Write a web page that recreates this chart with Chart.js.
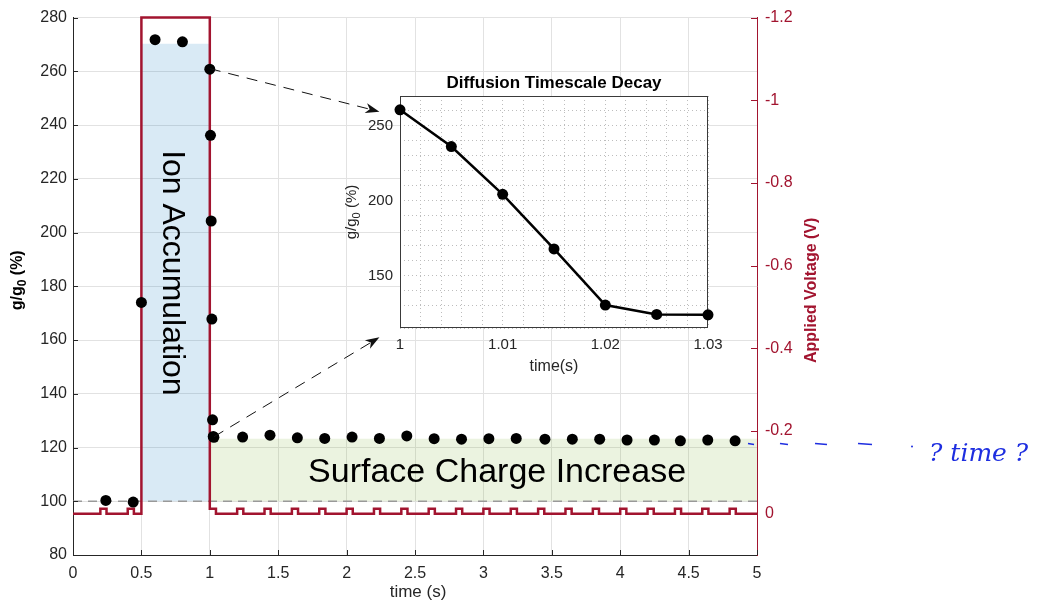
<!DOCTYPE html>
<html>
<head>
<meta charset="utf-8">
<script src="https://cdn.jsdelivr.net/npm/chart.js@4.4.0/dist/chart.umd.min.js"></script>
<style>
  html, body { margin: 0; padding: 0; background: #fff; }
  #wrap { position: relative; width: 1045px; height: 603px; }
  #main { position: absolute; left: 0; top: 0; }
  #inset { position: absolute; left: 330px; top: 62px; }
</style>
</head>
<body>
<div id="wrap">
  <canvas id="main" width="1045" height="603"></canvas>
  <canvas id="inset" width="410" height="318"></canvas>
</div>
<script>
// conductance ratio g/g0 (%) against time (s)
const timeS = [0.24, 0.44, 0.5, 0.6, 0.8,
  1.0, 1.005, 1.01, 1.015, 1.02, 1.025, 1.03,
  1.24, 1.44, 1.64, 1.84, 2.04, 2.24, 2.44, 2.64, 2.84, 3.04,
  3.24, 3.45, 3.65, 3.85, 4.05, 4.25, 4.44, 4.64, 4.84]
const ratio = [100.3, 99.7, 174, 271.8, 271.0,
  260.8, 236.2, 204.3, 167.8, 130.3, 124.1, 123.8,
  123.9, 124.6, 123.6, 123.4, 123.9, 123.4, 124.3, 123.3, 123.1, 123.3,
  123.4, 123.1, 123.1, 123.1, 122.8, 122.8, 122.5, 122.8, 122.5]

// applied voltage: one big pulse plus small read pulses
const pulseWindow = [0.5, 1.0]
const pulseVolt = -1.2
const bumpStarts = [0.2, 0.4, 1.0, 1.2, 1.4, 1.6, 1.8, 2.0, 2.2, 2.4, 2.6, 2.8,
  3.0, 3.2, 3.4, 3.6, 3.8, 4.0, 4.2, 4.4, 4.6, 4.8]
const bumpWidth = 0.045
const bumpVolt = -0.012

// shaded regions
const ionWindow = [0.5, 1.0]
const ionTop = 270.3
const surfaceWindow = [1.0, 5.0]
const surfaceTop = 123.3
const baseRatio = 100

// tick values
const xTicks = [0, 5, 0.5]
const yTicks = [80, 280, 20]
const vTicks = [-1.2, 0.1, 0.2]

// inset zoom window
const insetRange = [1.0, 1.03]
const insetY = [115, 270]

// annotation anchors (data units)
const ionLabelAt = [0.72, 185]
const surfaceLabelAt = [3.1, 110.6]
const arrowFrom = [[1.0, 261], [1.03, 124]]
const arrowTo = [[2.24, 245], [2.24, 161]]

const crimson = '#a2142f'
const ink = '#262626'
const gridColor = '#e2e2e2'
const font = 'Liberation Sans'

// build voltage step trace
let voltPoints = [{ x: 0, y: 0 }]
let events = [{ x: pulseWindow[0], y: pulseVolt }]
bumpStarts.forEach((s) => {
  events.push({ x: s, y: bumpVolt })
  events.push({ x: s + bumpWidth, y: 0 })
})
events.sort((a, b) => a.x - b.x)
voltPoints = voltPoints.concat(events)
voltPoints.push({ x: 5, y: 0 })

function drawSubLabel(ctx, pre, sub, post, x, y, rot, weight, size, color) {
  ctx.save()
  ctx.fillStyle = color
  const big = weight + ' ' + size + 'px "' + font + '"'
  const small = weight + ' ' + Math.round(size * 0.72) + 'px "' + font + '"'
  ctx.font = big
  const w1 = ctx.measureText(pre).width
  const w3 = ctx.measureText(post).width
  ctx.font = small
  const w2 = ctx.measureText(sub).width
  const total = w1 + w2 + w3
  ctx.translate(x, y)
  ctx.rotate(rot)
  ctx.textBaseline = 'middle'
  ctx.textAlign = 'left'
  ctx.font = big
  ctx.fillText(pre, -total / 2, 0)
  ctx.font = small
  ctx.fillText(sub, -total / 2 + w1, size * 0.3)
  ctx.font = big
  ctx.fillText(post, -total / 2 + w1 + w2, 0)
  ctx.restore()
}

const mainDecor = {
  id: 'mainDecor',
  afterDatasetsDraw(chart) {
    const { ctx, scales } = chart
    const x = scales.x
    const y = scales.y

    // dashed arrows to the inset
    arrowFrom.forEach((p, i) => {
      const x1 = x.getPixelForValue(p[0])
      const y1 = y.getPixelForValue(p[1])
      const x2 = x.getPixelForValue(arrowTo[i][0])
      const y2 = y.getPixelForValue(arrowTo[i][1])
      const ang = Math.atan2(y2 - y1, x2 - x1)
      ctx.save()
      ctx.strokeStyle = '#111'
      ctx.lineWidth = 1
      ctx.setLineDash([11, 8])
      ctx.beginPath()
      ctx.moveTo(x1, y1)
      ctx.lineTo(x2 - 10 * Math.cos(ang), y2 - 10 * Math.sin(ang))
      ctx.stroke()
      ctx.setLineDash([])
      ctx.translate(x2, y2)
      ctx.rotate(ang)
      ctx.fillStyle = '#111'
      ctx.beginPath()
      ctx.moveTo(0, 0)
      ctx.lineTo(-14, -5)
      ctx.lineTo(-10, 0)
      ctx.lineTo(-14, 5)
      ctx.closePath()
      ctx.fill()
      ctx.restore()
    })

    // region labels
    ctx.save()
    ctx.fillStyle = '#000'
    ctx.textAlign = 'center'
    ctx.textBaseline = 'middle'
    ctx.translate(x.getPixelForValue(ionLabelAt[0]), y.getPixelForValue(ionLabelAt[1]))
    ctx.rotate(Math.PI / 2)
    ctx.font = '32px "' + font + '"'
    ctx.fillText('Ion Accumulation', 0, 0)
    ctx.restore()

    ctx.save()
    ctx.fillStyle = '#000'
    ctx.textAlign = 'center'
    ctx.textBaseline = 'middle'
    ctx.font = '34px "' + font + '"'
    ctx.fillText('Surface Charge Increase', x.getPixelForValue(surfaceLabelAt[0]), y.getPixelForValue(surfaceLabelAt[1]))
    ctx.restore()
  },
  afterDraw(chart) {
    const { ctx, chartArea, scales } = chart
    const { left, right, top, bottom } = chartArea

    // inward tick marks
    ctx.save()
    ctx.lineWidth = 1
    ctx.strokeStyle = ink
    scales.y.ticks.forEach((t) => {
      const py = Math.round(scales.y.getPixelForValue(t.value)) + 0.5
      ctx.beginPath(); ctx.moveTo(left, py); ctx.lineTo(left + 5, py); ctx.stroke()
    })
    scales.x.ticks.forEach((t) => {
      const px = Math.round(scales.x.getPixelForValue(t.value)) + 0.5
      ctx.beginPath(); ctx.moveTo(px, bottom); ctx.lineTo(px, bottom - 5); ctx.stroke()
    })
    ctx.strokeStyle = crimson
    scales.yV.ticks.forEach((t) => {
      if (t.value > 0.05) return
      const py = Math.round(scales.yV.getPixelForValue(t.value)) + 0.5
      ctx.beginPath(); ctx.moveTo(right, py); ctx.lineTo(right - 6, py); ctx.stroke()
    })
    ctx.restore()

    // axis titles
    const midY = (top + bottom) / 2
    drawSubLabel(ctx, 'g/g', '0', ' (%)', 18, midY - 6, -Math.PI / 2, 'bold', 16, '#000')
    ctx.save()
    ctx.fillStyle = crimson
    ctx.font = 'bold 16px "' + font + '"'
    ctx.textAlign = 'center'
    ctx.textBaseline = 'middle'
    ctx.translate(right + 55, midY + 4)
    ctx.rotate(-Math.PI / 2)
    ctx.fillText('Applied Voltage (V)', 0, 0)
    ctx.restore()
    ctx.save()
    ctx.fillStyle = ink
    ctx.font = '17px "' + font + '"'
    ctx.textAlign = 'center'
    ctx.textBaseline = 'middle'
    ctx.fillText('time (s)', (left + right) / 2 + 3, 592)
    ctx.restore()

    // handwritten note on the right margin
    const ny = scales.yV.getPixelForValue(-0.17)
    ctx.save()
    ctx.strokeStyle = '#1e2ee0'
    ctx.fillStyle = '#1e2ee0'
    ctx.lineWidth = 1.5
    ;[[-9, -3], [23, 31], [58, 70], [101, 115]].forEach((d) => {
      ctx.beginPath(); ctx.moveTo(right + d[0], ny); ctx.lineTo(right + d[1], ny + 1); ctx.stroke()
    })
    ctx.beginPath(); ctx.arc(right + 155, ny + 3, 1, 0, Math.PI * 2); ctx.fill()
    ctx.font = 'italic 25px "DejaVu Serif"'
    ctx.textBaseline = 'alphabetic'
    ctx.fillText('? time ?', right + 172, ny + 18)
    ctx.restore()
  },
}

new Chart(document.getElementById('main'), {
  type: 'scatter',
  data: {
    datasets: [
      {
        data: timeS.map((t, i) => ({ x: t, y: ratio[i] })),
        yAxisID: 'y',
        pointRadius: 5.5,
        pointBackgroundColor: '#000',
        pointBorderWidth: 0,
        order: 0,
      },
      {
        data: voltPoints,
        yAxisID: 'yV',
        showLine: true,
        stepped: true,
        borderColor: crimson,
        borderWidth: 2.5,
        pointRadius: 0,
        clip: 3,
        order: 1,
      },
      {
        data: [{ x: 0, y: baseRatio }, { x: 5, y: baseRatio }],
        yAxisID: 'y',
        showLine: true,
        borderColor: '#999',
        borderWidth: 1.5,
        borderDash: [9, 6],
        pointRadius: 0,
        order: 2,
      },
      {
        data: ionWindow.map((t) => ({ x: t, y: ionTop })),
        yAxisID: 'y',
        showLine: true,
        borderWidth: 0,
        pointRadius: 0,
        fill: { value: baseRatio },
        backgroundColor: 'rgba(0,114,189,0.15)',
        order: 3,
      },
      {
        data: surfaceWindow.map((t) => ({ x: t, y: surfaceTop })),
        yAxisID: 'y',
        showLine: true,
        borderWidth: 0,
        pointRadius: 0,
        fill: { value: baseRatio },
        backgroundColor: 'rgba(119,172,48,0.15)',
        order: 4,
      },
    ],
  },
  options: {
    responsive: false,
    animation: false,
    layout: { padding: { left: 0, right: 213, top: 13, bottom: 0 } },
    plugins: { legend: { display: false }, tooltip: { enabled: false } },
    scales: {
      x: {
        type: 'linear',
        min: xTicks[0],
        max: xTicks[1],
        ticks: {
          stepSize: xTicks[2],
          padding: 9,
          color: ink,
          font: { family: font, size: 16 },
          maxRotation: 0,
          autoSkip: false,
          callback: (v) => String(Math.round(v * 10) / 10),
        },
        grid: { color: gridColor, drawTicks: false },
        border: { color: ink },
        afterFit: (s) => { s.height = 48 },
      },
      y: {
        position: 'left',
        min: yTicks[0],
        max: yTicks[1],
        ticks: { stepSize: yTicks[2], padding: 6, color: ink, font: { family: font, size: 16 } },
        grid: { color: gridColor, drawTicks: false },
        border: { color: ink },
        afterFit: (s) => { s.width = 73 },
      },
      yV: {
        position: 'right',
        min: vTicks[0],
        max: vTicks[1],
        reverse: true,
        ticks: {
          stepSize: vTicks[2],
          padding: 8,
          color: crimson,
          font: { family: font, size: 16 },
          callback: (v) => (v > 0.05 ? '' : String(Math.round(v * 10) / 10)),
        },
        grid: { drawOnChartArea: false, drawTicks: false },
        border: { color: crimson },
        afterFit: (s) => { s.width = 75 },
      },
    },
  },
  plugins: [mainDecor],
})

// inset: the first 30 ms after the pulse
const insetPts = timeS
  .map((t, i) => ({ x: t, y: ratio[i] }))
  .filter((p) => p.x >= insetRange[0] && p.x <= insetRange[1] + 1e-9)

const insetDecor = {
  id: 'insetDecor',
  beforeDraw(chart) {
    const { ctx, chartArea } = chart
    ctx.save()
    ctx.fillStyle = '#fff'
    ctx.fillRect(chartArea.left, chartArea.top, chartArea.width, chartArea.height)
    ctx.restore()
  },
  beforeDatasetsDraw(chart) {
    const { ctx, chartArea } = chart
    const { left, right, top, bottom } = chartArea
    ctx.save()
    ctx.strokeStyle = '#3a3a3a'
    ctx.lineWidth = 1
    ctx.strokeRect(left + 0.5, top + 0.5, right - left - 1, bottom - top - 1)
    ctx.restore()
  },
  afterDraw(chart) {
    const { ctx, chartArea } = chart
    const { left, right, top, bottom } = chartArea
    ctx.save()
    ctx.fillStyle = '#000'
    ctx.font = 'bold 17px "' + font + '"'
    ctx.textAlign = 'center'
    ctx.textBaseline = 'middle'
    ctx.fillText('Diffusion Timescale Decay', (left + right) / 2, top - 13)
    ctx.fillStyle = ink
    ctx.font = '16px "' + font + '"'
    ctx.fillText('time(s)', (left + right) / 2, bottom + 39)
    ctx.restore()
    drawSubLabel(ctx, 'g/g', '0', ' (%)', 22, (top + bottom) / 2, -Math.PI / 2, 'normal', 15, ink)
  },
}

new Chart(document.getElementById('inset'), {
  type: 'scatter',
  data: {
    datasets: [{
      data: insetPts,
      showLine: true,
      borderColor: '#000',
      borderWidth: 2.5,
      pointRadius: 5.5,
      pointBackgroundColor: '#000',
      pointBorderWidth: 0,
      clip: false,
    }],
  },
  options: {
    responsive: false,
    animation: false,
    layout: { padding: { left: 0, right: 32, top: 34, bottom: 0 } },
    plugins: { legend: { display: false }, tooltip: { enabled: false } },
    scales: {
      x: {
        type: 'linear',
        min: insetRange[0],
        max: insetRange[1],
        ticks: {
          stepSize: 0.002,
          autoSkip: false,
          maxRotation: 0,
          padding: 8,
          color: ink,
          font: { family: font, size: 15 },
          callback: (v) => (Math.abs(v * 100 - Math.round(v * 100)) < 1e-6 ? String(Math.round(v * 100) / 100) : ''),
        },
        grid: { color: '#bdbdbd', drawTicks: false },
        border: { display: false, dash: [1, 3] },
        afterFit: (s) => { s.height = 52 },
      },
      y: {
        min: insetY[0],
        max: insetY[1],
        ticks: {
          stepSize: 10,
          autoSkip: false,
          padding: 7,
          color: ink,
          font: { family: font, size: 15 },
          callback: (v) => (v % 50 === 0 ? String(v) : ''),
        },
        grid: { color: '#bdbdbd', drawTicks: false },
        border: { display: false, dash: [1, 3] },
        afterFit: (s) => { s.width = 70 },
      },
    },
  },
  plugins: [insetDecor],
})
</script>
</body>
</html>
